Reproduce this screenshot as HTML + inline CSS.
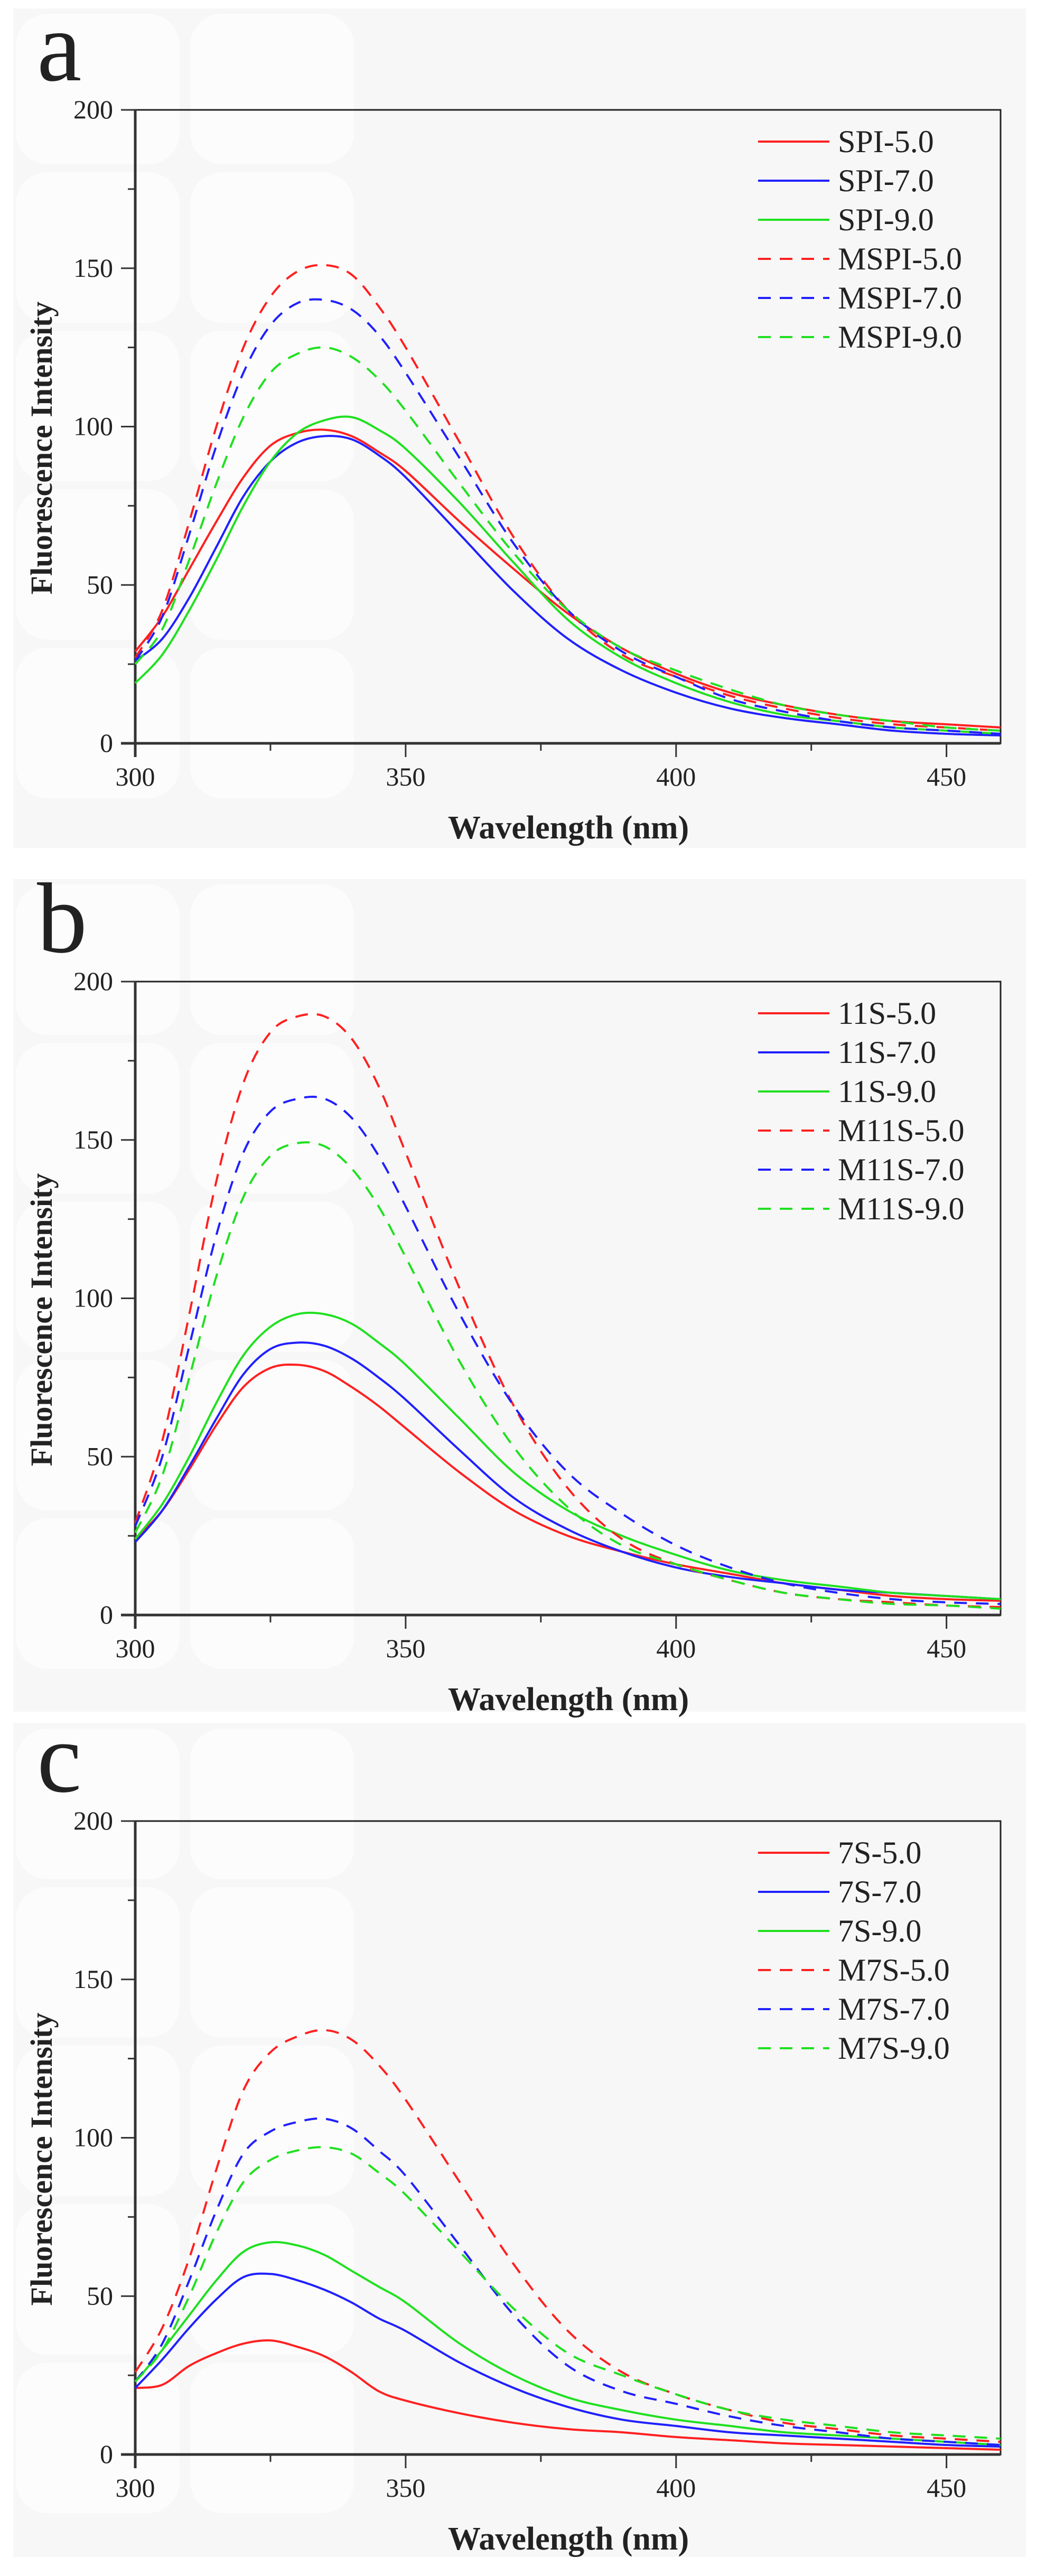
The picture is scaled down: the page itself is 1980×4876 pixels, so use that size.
<!DOCTYPE html>
<html><head><meta charset="utf-8"><style>
html,body{margin:0;padding:0;background:#fff;}
svg{display:block;}
text{font-family:"Liberation Serif",serif;fill:#222;}
</style></head>
<body>
<svg id="fig" width="1980" height="4876" viewBox="0 0 1980 4876" xmlns="http://www.w3.org/2000/svg"></svg>
<script>
const wavelengths=[300,305,310,315,320,325,330,335,340,345,350,360,370,380,390,400,410,420,430,440,450,460];
const xTicks=[300,350,400,450];
const yTicks=[0,50,100,150,200];
const colors=['#ff2020','#2020ff','#20e020','#ff2020','#2020ff','#20e020'];

const aLabels=['SPI-5.0','SPI-7.0','SPI-9.0','MSPI-5.0','MSPI-7.0','MSPI-9.0'];
const aSPI5=[29,40,55,70,84,94,98,99,97,92,86,70,55,41,30,22,16,12,9,7,6,5];
const aSPI7=[26,33,46,62,78,89,95,97,96,91,84,66,48,33,23,16,11,8,6,4,3,2.5];
const aSPI9=[19,28,42,58,75,89,98,102,103,99,93,76,57,39,27,19,13,9,7,5,4,3];
const aMSPI5=[27,42,70,100,125,141,149,151,148,138,125,95,65,42,28,21,15,11,8,6,5,4];
const aMSPI7=[26,40,66,94,117,132,139,140,137,129,117,90,63,42,29,21,14,10,7,5,4,3];
const aMSPI9=[25,36,58,82,103,117,123,125,122,115,105,82,60,42,30,23,17,12,9,7,5,4];

const bLabels=['11S-5.0','11S-7.0','11S-9.0','M11S-5.0','M11S-7.0','M11S-9.0'];
const b11S5=[24,33,46,60,72,78,79,77,72,66,59,45,33,25,20,16,13,10,8,6,5,4.5];
const b11S7=[23,33,47,62,76,84,86,85,81,75,68,52,37,27,20,15,12,10,8,7,6,5];
const b11S9=[24,35,50,67,82,91,95,95,92,86,79,62,45,33,25,19,14,11,9,7,6,5];
const bM11S5=[29,55,95,137,168,184,189,189,182,167,146,103,66,40,24,16,11,7,5,4,3,2.5];
const bM11S7=[28,50,85,120,146,159,163,163,157,145,129,95,66,45,32,22,15,10,7,5,4,3.5];
const bM11S9=[26,44,75,107,132,145,149,148,141,129,113,80,53,34,22,16,11,7,5,3.5,3,2];

const cLabels=['7S-5.0','7S-7.0','7S-9.0','M7S-5.0','M7S-7.0','M7S-9.0'];
const c7S5=[21,22,28,32,35,36,34,31,26,20,17,13,10,8,7,5.5,4.5,3.5,3,2.5,2,1.5];
const c7S7=[21,30,40,49,56,57,55,52,48,43,39,29,21,15,11,9,7,6,5,4,3,2.5];
const c7S9=[23,33,44,55,64,67,66,63,58,53,48,35,25,18,14,11,9,7,6,5,4,3];
const cM7S5=[26,40,62,90,115,127,132,134,131,123,112,86,60,39,26,19,14,10,8,6,5,4];
const cM7S7=[23,35,55,77,95,102,105,106,103,96,88,66,44,28,20,16,12,9,7,5,4,3];
const cM7S9=[23,33,50,70,86,93,96,97,95,89,82,64,46,32,25,19,14,11,9,7,6,5];

const NS='http://www.w3.org/2000/svg';
const svg=document.getElementById('fig');
function mk(tag,attrs,parent){const e=document.createElementNS(NS,tag);for(const k in attrs)e.setAttribute(k,attrs[k]);(parent||svg).appendChild(e);return e;}

const X0=256,X1=1894;
function panel(letter,series,labels,top,bgTop,bgBot){
  const g=mk('g',{});
  
  
  const yTop=top,yBot=top+1199;
  const xs=v=>X0+(v-300)*(X1-X0)/160;
  const ys=v=>yBot-v*(yBot-yTop)/200;
  const bg=mk('rect',{x:25,y:bgTop,width:1917,height:bgBot-bgTop,fill:'#f7f7f7'},g);
  
  
  for(let c=0;c<2;c++)for(let r=0;r<5;r++){
    const d=mk('rect',{x:30+c*330,y:bgTop+10+r*300,width:310,height:285,rx:60,fill:'#fcfcfc'},g);
    
    
  }
  const lt=mk('text',{x:70,y:yTop-56,'font-size':190},g);lt.textContent=letter;
  
  
  // frame
  const fr=mk('rect',{x:X0,y:yTop,width:X1-X0,height:yBot-yTop,fill:'none',stroke:'#222','stroke-width':3},g);
  
  
  mk('line',{x1:X0,y1:yTop,x2:X0,y2:yBot+26,stroke:'#333','stroke-width':5},g);
  mk('line',{x1:X0-27,y1:yBot,x2:X1,y2:yBot,stroke:'#333','stroke-width':5},g);
  // y ticks
  for(let v=0;v<=200;v+=25){const maj=v%50===0;mk('line',{x1:X0-(maj?27:14),y1:ys(v),x2:X0,y2:ys(v),stroke:'#333','stroke-width':3},g);}
  yTicks.forEach(v=>{const t=mk('text',{x:214,y:ys(v)+16,'font-size':50,'text-anchor':'end'},g);t.textContent=v;
    
    });
  for(let v=300;v<=450;v+=25){const maj=v%50===0;mk('line',{x1:xs(v),y1:yBot,x2:xs(v),y2:yBot+(maj?26:14),stroke:'#333','stroke-width':3},g);}
  xTicks.forEach(v=>{const t=mk('text',{x:xs(v),y:yBot+80,'font-size':50,'text-anchor':'middle'},g);t.textContent=v;
    
    });
  const yt=mk('text',{x:0,y:0,'font-size':58,'font-weight':'bold','text-anchor':'middle',transform:`translate(98,${yTop+640}) rotate(-90)`},g);
  yt.textContent='Fluorescence Intensity';
  
  
  const xt=mk('text',{x:1076,y:yBot+180,'font-size':62,'font-weight':'bold','text-anchor':'middle'},g);
  xt.textContent='Wavelength (nm)';
  
  
  // series
  series.forEach((vals,i)=>{
    const pts=wavelengths.map((w,j)=>[xs(w),ys(vals[j])]);
    let d='M'+pts[0][0]+','+pts[0][1];
    for(let j=0;j<pts.length-1;j++){
      const p0=pts[Math.max(0,j-1)],p1=pts[j],p2=pts[j+1],p3=pts[Math.min(pts.length-1,j+2)];
      const c1=[p1[0]+(p2[0]-p0[0])/6,p1[1]+(p2[1]-p0[1])/6];
      const c2=[p2[0]-(p3[0]-p1[0])/6,p2[1]-(p3[1]-p1[1])/6];
      d+=`C${c1[0]},${c1[1]} ${c2[0]},${c2[1]} ${p2[0]},${p2[1]}`;
    }
    const a={d:d,fill:'none',stroke:colors[i],'stroke-width':4};
    if(i>=3)a['stroke-dasharray']='24 17';
    const p=mk('path',a,g);
    
    
    const ly=yTop+60+i*74;
    const la={x1:1435,y1:ly,x2:1570,y2:ly,stroke:colors[i],'stroke-width':4};
    if(i>=3)la['stroke-dasharray']='24 17';
    const ll=mk('line',la,g);
    
    
    const lx=mk('text',{x:1586,y:ly+20,'font-size':60},g);lx.textContent=labels[i];
    
    
  });
}
panel('a',[aSPI5,aSPI7,aSPI9,aMSPI5,aMSPI7,aMSPI9],aLabels,208,16,1605);
panel('b',[b11S5,b11S7,b11S9,bM11S5,bM11S7,bM11S9],bLabels,1858,1664,3240);
panel('c',[c7S5,c7S7,c7S9,cM7S5,cM7S7,cM7S9],cLabels,3447,3262,4840);
</script>
</body></html>
